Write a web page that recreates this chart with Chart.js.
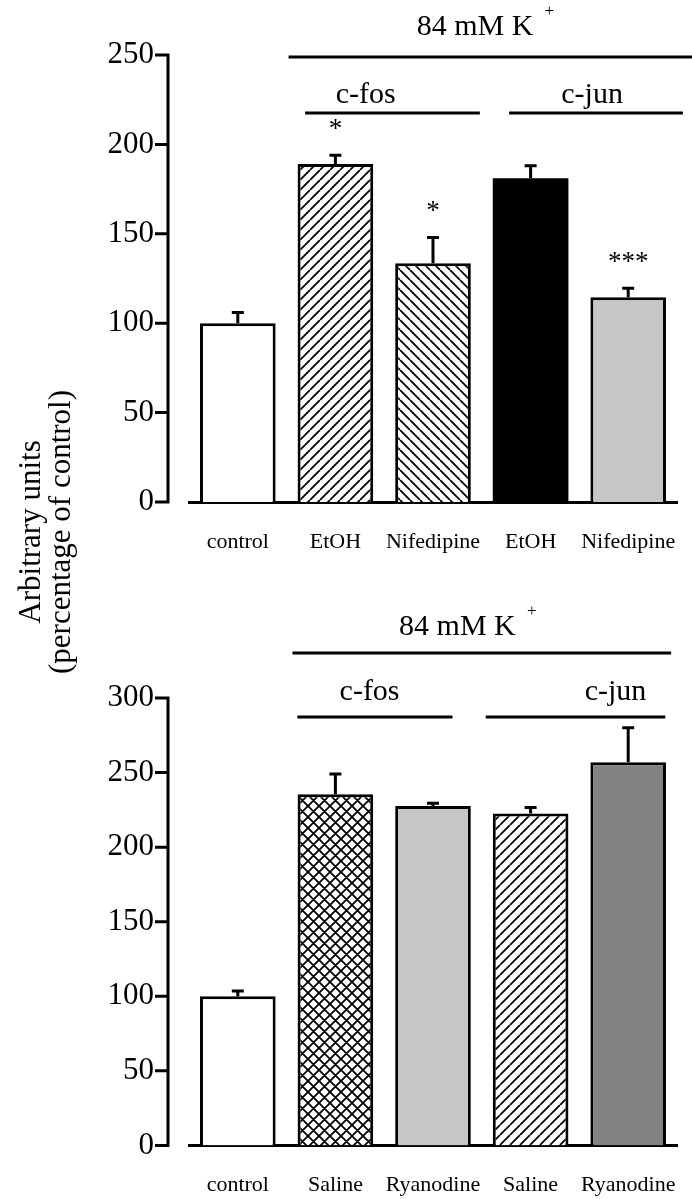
<!DOCTYPE html>
<html>
<head>
<meta charset="utf-8">
<script src="https://cdn.jsdelivr.net/npm/chart.js@4.4.1/dist/chart.umd.min.js"></script>
<style>
  body { margin: 0; background: #fff; width: 692px; height: 1199px; position: relative; overflow: hidden; font-family: "Liberation Serif", "Times New Roman", serif; }
  .panel { position: absolute; left: 0; width: 692px; }
  #top { top: 0; height: 575px; }
  #bottom { top: 575px; height: 624px; }
  #ytitle { position: absolute; left: 45px; top: 532px; transform: translate(-50%, -50%) rotate(-90deg); white-space: nowrap; text-align: center; font-size: 31px; line-height: 30px; color: #000; }
</style>
</head>
<body>
<div class="panel" id="top"><canvas id="top-canvas"></canvas></div>
<div class="panel" id="bottom"><canvas id="bottom-canvas"></canvas></div>
<div id="ytitle">Arbitrary units<br>(percentage of control)</div>
<script>
// upper panel
const topCategories = ["control", "EtOH", "Nifedipine", "EtOH", "Nifedipine"]
const topValues = [100, 189, 133.5, 181, 114.5]
const topSem = [6, 5, 14.5, 7, 5]
const topStars = ["", "*", "*", "", "***"]
const topTicks = [0, 50, 100, 150, 200, 250]

// lower panel
const bottomCategories = ["control", "Saline", "Ryanodine", "Saline", "Ryanodine"]
const bottomValues = [100, 235.5, 227.5, 222.5, 257]
const bottomSem = [3.5, 13.5, 2, 4, 23]
const bottomStars = ["", "", "", "", ""]
const bottomTicks = [0, 50, 100, 150, 200, 250, 300]

const serif = "'Liberation Serif', 'Times New Roman', serif"

// diagonal line / crosshatch fills
function hatch(kind, size, bg) {
  const c = document.createElement("canvas")
  c.width = c.height = size
  const g = c.getContext("2d")
  g.fillStyle = bg || "#fff"
  g.fillRect(0, 0, size, size)
  g.strokeStyle = "#000"
  g.lineWidth = 1.8
  g.beginPath()
  if (kind === "up" || kind === "cross") {
    for (const o of [-size, 0, size]) { g.moveTo(o, size); g.lineTo(o + size, 0) }
  }
  if (kind === "down" || kind === "cross") {
    for (const o of [-size, 0, size]) { g.moveTo(o, 0); g.lineTo(o + size, size) }
  }
  g.stroke()
  return document.createElement("canvas").getContext("2d").createPattern(c, "repeat")
}

const figurePlugin = {
  id: "figure",
  afterDatasetsDraw(chart, args, opts) {
    const { ctx, chartArea } = chart
    const x = chart.scales.x
    const y = chart.scales.y
    const values = chart.data.datasets[0].data
    ctx.save()
    ctx.strokeStyle = "#000"
    ctx.fillStyle = "#000"
    ctx.lineWidth = 3
    ctx.lineCap = "butt"

    // y axis line detached from the plot
    const ax = chartArea.left - 21
    ctx.beginPath()
    ctx.moveTo(ax, y.getPixelForValue(y.max) - 1.5)
    ctx.lineTo(ax, y.getPixelForValue(0) + 1.5)
    y.ticks.forEach(t => {
      const py = y.getPixelForValue(t.value)
      ctx.moveTo(ax - 13, py)
      ctx.lineTo(ax, py)
    })
    ctx.stroke()

    // error bars (upper half only) and significance marks
    values.forEach((v, i) => {
      const px = x.getPixelForValue(i)
      const top = y.getPixelForValue(v + opts.sem[i])
      ctx.beginPath()
      ctx.moveTo(px, y.getPixelForValue(v))
      ctx.lineTo(px, top)
      ctx.moveTo(px - 6, top)
      ctx.lineTo(px + 6, top)
      ctx.stroke()
      if (opts.stars[i]) {
        ctx.font = "27px " + serif
        ctx.textAlign = "center"
        ctx.textBaseline = "alphabetic"
        ctx.fillText(opts.stars[i], px, top - 18)
      }
    })

    // group brackets
    opts.groups.forEach(gr => {
      ctx.beginPath()
      ctx.moveTo(x.getPixelForValue(gr.from), gr.lineY)
      ctx.lineTo(x.getPixelForValue(gr.to), gr.lineY)
      ctx.stroke()
      ctx.font = "30px " + serif
      ctx.textAlign = "center"
      ctx.textBaseline = "middle"
      const tx = x.getPixelForValue(gr.textX)
      ctx.fillText(gr.text, tx, gr.textY)
      if (gr.sup) {
        const w = ctx.measureText(gr.text).width
        ctx.font = "17px " + serif
        ctx.fillText(gr.sup, tx + w / 2 + 16, gr.textY - 15)
      }
    })
    ctx.restore()
  },
}

function makeChart(id, categories, values, sem, stars, ticks, fills, borders, groups, padTop, xHeight) {
  return new Chart(document.getElementById(id), {
    type: "bar",
    data: {
      labels: categories,
      datasets: [
        {
          data: values,
          backgroundColor: fills,
          borderColor: "#000",
          borderWidth: borders,
          categoryPercentage: 1,
          barPercentage: 0.775,
        },
      ],
    },
    options: {
      responsive: true,
      maintainAspectRatio: false,
      animation: false,
      layout: { padding: { top: padTop, right: 15, left: 0, bottom: 0 } },
      plugins: {
        legend: { display: false },
        tooltip: { enabled: false },
        figure: { sem: sem, stars: stars, groups: groups },
      },
      scales: {
        x: {
          grid: { display: false, drawTicks: false },
          border: { display: true, color: "#000", width: 3 },
          ticks: { color: "#000", font: { family: serif, size: 22 }, padding: 27, maxRotation: 0, autoSkip: false },
          afterFit: s => {
            s.height = xHeight
            s.paddingLeft = 0
            s.paddingRight = 0
          },
        },
        y: {
          min: ticks[0],
          max: ticks[ticks.length - 1],
          grid: { display: false, drawTicks: false },
          border: { display: false },
          ticks: { color: "#000", font: { family: serif, size: 31 }, padding: 35 },
          afterBuildTicks: s => { s.ticks = ticks.map(v => ({ value: v })) },
          afterFit: s => { s.width = 189 },
        },
      },
    },
    plugins: [figurePlugin],
  })
}

document.addEventListener("DOMContentLoaded", () => {
  if (typeof Chart === "undefined") {
    console.error("Chart.js is not loaded")
    return
  }

  makeChart(
    "top-canvas", topCategories, topValues, topSem, topStars, topTicks,
    ["#fff", hatch("up", 10), hatch("down", 10), "#000", "#c6c6c6"],
    [3, 3, 3, 0, 3],
    [
      { text: "84 mM K", sup: "+", from: 0.52, to: 4.7, textX: 2.43, textY: 27, lineY: 57 },
      { text: "c-fos", from: 0.69, to: 2.48, textX: 1.31, textY: 95, lineY: 113 },
      { text: "c-jun", from: 2.78, to: 4.56, textX: 3.63, textY: 95, lineY: 113 },
    ],
    55, 73
  )

  makeChart(
    "bottom-canvas", bottomCategories, bottomValues, bottomSem, bottomStars, bottomTicks,
    ["#fff", hatch("cross", 11), "#c6c6c6", hatch("up", 10), "#828282"],
    [3, 3, 3, 3, 3],
    [
      { text: "84 mM K", sup: "+", from: 0.56, to: 4.44, textX: 2.25, textY: 52, lineY: 78 },
      { text: "c-fos", from: 0.61, to: 2.2, textX: 1.35, textY: 117, lineY: 142 },
      { text: "c-jun", from: 2.54, to: 4.38, textX: 3.87, textY: 117, lineY: 142 },
    ],
    123, 52
  )
})
</script>
</body>
</html>
